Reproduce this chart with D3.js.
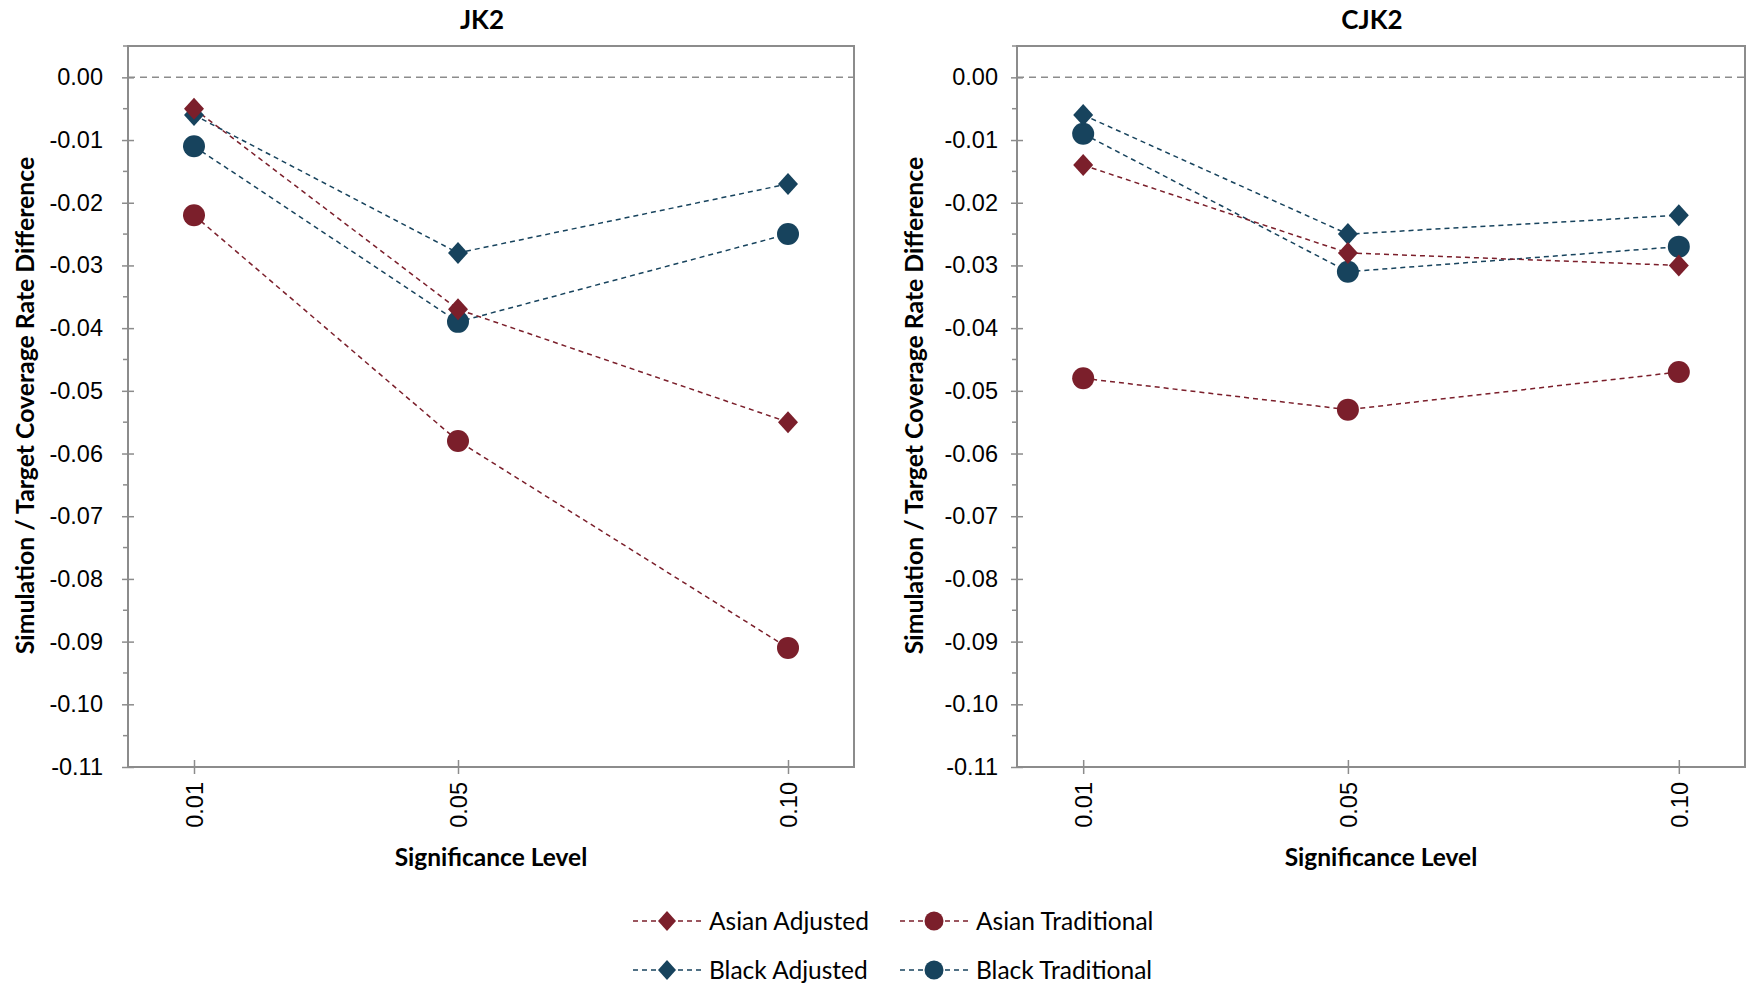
<!DOCTYPE html>
<html>
<head>
<meta charset="utf-8">
<script src="https://cdn.jsdelivr.net/npm/d3@7"></script>
<style>
  body { margin: 0; background: #fff; }
  svg { font-family: Lato, "Open Sans", sans-serif; }
</style>
</head>
<body>
<div id="chart"></div>
<script>
const levels = [0.01, 0.05, 0.10];
const tickLabels = ["0.01", "0.05", "0.10"];
const panelTitles = ["JK2", "CJK2"];

// JK2 panel
const jkAsianAdj = [-0.005, -0.037, -0.055];
const jkAsianTrad = [-0.022, -0.058, -0.091];
const jkBlackAdj = [-0.006, -0.028, -0.017];
const jkBlackTrad = [-0.011, -0.039, -0.025];

// CJK2 panel
const cjkAsianAdj = [-0.014, -0.028, -0.030];
const cjkAsianTrad = [-0.048, -0.053, -0.047];
const cjkBlackAdj = [-0.006, -0.025, -0.022];
const cjkBlackTrad = [-0.009, -0.031, -0.027];

const seriesNames = ["Asian Adjusted", "Asian Traditional", "Black Adjusted", "Black Traditional"];
const red = "#7b1f2b";
const blue = "#17435d";

const seriesStyle = [
    {color: red, shape: "diamond"},
    {color: red, shape: "circle"},
    {color: blue, shape: "diamond"},
    {color: blue, shape: "circle"}
];

const panels = [
    {title: panelTitles[0], left: 128, right: 854, labelGap: 25, data: [jkAsianAdj, jkAsianTrad, jkBlackAdj, jkBlackTrad]},
    {title: panelTitles[1], left: 1017, right: 1745, labelGap: 19, data: [cjkAsianAdj, cjkAsianTrad, cjkBlackAdj, cjkBlackTrad]}
];

const width = 1750, height = 987;
const plotTop = 46, plotBottom = 767;
const axisColor = "#8c8c8c";

const svg = d3.select("#chart").append("svg")
    .attr("width", width)
    .attr("height", height);

// draw order so red circles sit like the reference
const drawOrder = [3, 2, 1, 0];

function marker(g, shape, color, x, y, big) {
    if (shape === "circle") {
        g.append("circle").attr("cx", x).attr("cy", y)
            .attr("r", big ? 11 : 9.5).attr("fill", color);
    } else {
        const w = big ? 10 : 9, h = big ? 11 : 10;
        g.append("path")
            .attr("d", `M${x},${y - h}L${x + w},${y}L${x},${y + h}L${x - w},${y}Z`)
            .attr("fill", color);
    }
}

panels.forEach(p => {
    const x = d3.scaleLinear().domain([0, 0.11]).range([p.left, p.right]);
    const y = d3.scaleLinear().domain([-0.11, 0.005]).range([plotBottom, plotTop]);
    const g = svg.append("g");

    // frame
    g.append("rect")
        .attr("x", p.left).attr("y", plotTop)
        .attr("width", p.right - p.left).attr("height", plotBottom - plotTop)
        .attr("fill", "none").attr("stroke", axisColor).attr("stroke-width", 2);

    // minor y ticks
    const minor = d3.range(0, 23).map(i => -0.105 + i * 0.01).filter(v => v <= 0.0051);
    g.selectAll(".minor").data(minor).enter().append("line")
        .attr("x1", p.left - 5).attr("x2", p.left)
        .attr("y1", d => y(d)).attr("y2", d => y(d))
        .attr("stroke", axisColor).attr("stroke-width", 1.5);

    // y axis
    const yAxis = d3.axisLeft(y)
        .tickValues(d3.range(0, 12).map(i => -i / 100))
        .tickFormat(d3.format(".2f"))
        .tickSizeInner(6).tickSizeOuter(0);
    const ya = g.append("g").attr("transform", `translate(${p.left},0)`).call(yAxis);
    ya.select(".domain").remove();
    ya.selectAll(".tick line").attr("x2", 6).attr("x1", -6)
        .attr("stroke", axisColor).attr("stroke-width", 1.5);
    ya.selectAll(".tick text")
        .attr("x", -p.labelGap)
        .style("font-size", "23.5px").attr("fill", "#000")
        .text(d => d === 0 ? "0.00" : d3.format(".2f")(d).replace("−", "-"));

    // x axis
    const xAxis = d3.axisBottom(x).tickValues(levels)
        .tickFormat((d, i) => tickLabels[i]).tickSizeInner(6).tickSizeOuter(0);
    const xa = g.append("g").attr("transform", `translate(0,${plotBottom})`).call(xAxis);
    xa.select(".domain").remove();
    xa.selectAll(".tick line").attr("y1", -7).attr("y2", 7)
        .attr("stroke", axisColor).attr("stroke-width", 1.5);
    xa.selectAll(".tick text")
        .attr("transform", "rotate(-90)")
        .attr("x", -15).attr("y", 0).attr("dy", "0.35em")
        .attr("text-anchor", "end")
        .style("font-size", "23.5px").attr("fill", "#000");

    // zero line
    g.append("line")
        .attr("x1", p.left).attr("x2", p.right)
        .attr("y1", y(0)).attr("y2", y(0))
        .attr("stroke", "#8c8c8c").attr("stroke-width", 1.5)
        .attr("stroke-dasharray", "7,5");

    // series
    const line = d3.line().x((d, i) => x(levels[i])).y(d => y(d));
    drawOrder.forEach(si => {
        g.append("path").datum(p.data[si])
            .attr("d", line)
            .attr("fill", "none")
            .attr("stroke", seriesStyle[si].color)
            .attr("stroke-width", 1.5)
            .attr("stroke-dasharray", "5,4");
    });
    drawOrder.forEach(si => {
        p.data[si].forEach((v, i) => {
            marker(g, seriesStyle[si].shape, seriesStyle[si].color, x(levels[i]), y(v), true);
        });
    });

    // titles
    g.append("text")
        .attr("x", (p.left + p.right) / 2 - 9).attr("y", 20).attr("dy", "0.35em")
        .attr("text-anchor", "middle")
        .style("font-size", "26px").style("font-weight", "bold")
        .text(p.title);

    g.append("text")
        .attr("x", (p.left + p.right) / 2).attr("y", 857).attr("dy", "0.35em")
        .attr("text-anchor", "middle")
        .style("font-size", "24.5px").style("font-weight", "bold")
        .text("Significance Level");

    g.append("text")
        .attr("transform", `translate(${p.left - 103},${(plotTop + plotBottom) / 2 - 1}) rotate(-90)`)
        .attr("dy", "0.35em")
        .attr("text-anchor", "middle")
        .style("font-size", "24.8px").style("font-weight", "bold")
        .text("Simulation / Target Coverage Rate Difference");
});

// legend
const legendPos = [
    {x: 633, y: 921}, {x: 900, y: 921},
    {x: 633, y: 970}, {x: 900, y: 970}
];
const legend = svg.append("g");
seriesNames.forEach((name, i) => {
    const lp = legendPos[i];
    const st = seriesStyle[i];
    legend.append("line")
        .attr("x1", lp.x).attr("x2", lp.x + 68)
        .attr("y1", lp.y).attr("y2", lp.y)
        .attr("stroke", st.color).attr("stroke-width", 1.5)
        .attr("stroke-dasharray", "5,4");
    marker(legend, st.shape, st.color, lp.x + 34, lp.y, false);
    legend.append("text")
        .attr("x", lp.x + 76).attr("y", lp.y).attr("dy", "0.35em")
        .style("font-size", "24.5px").attr("fill", "#000")
        .text(name);
});
</script>
</body>
</html>
